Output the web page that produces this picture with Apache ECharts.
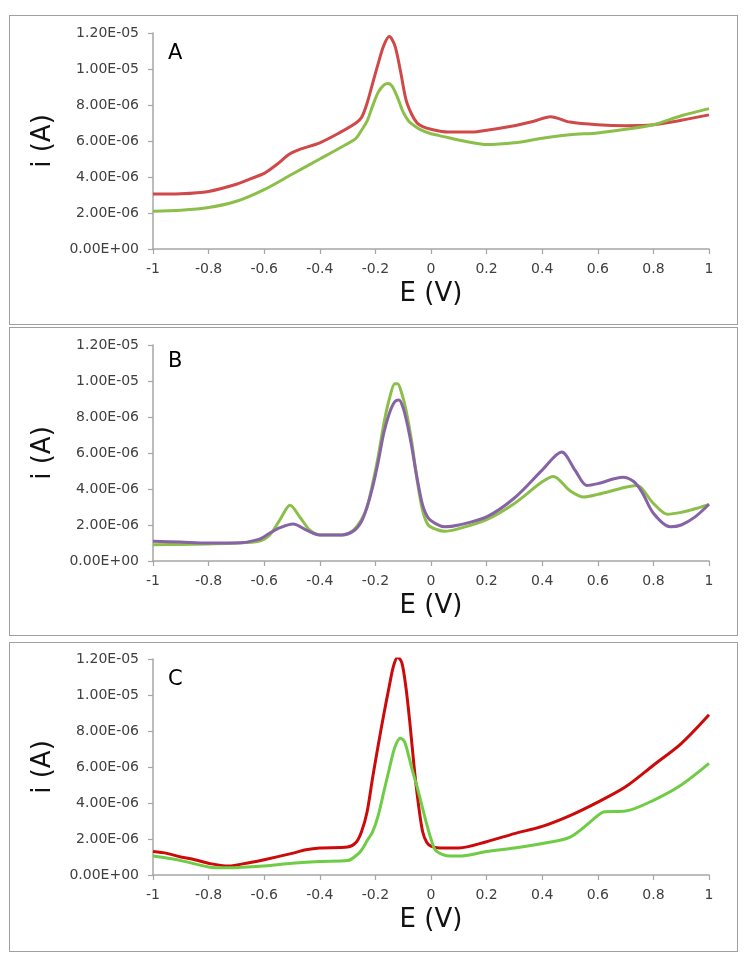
<!DOCTYPE html>
<html><head><meta charset="utf-8">
<script src="https://cdn.jsdelivr.net/npm/echarts@6/dist/echarts.min.js"></script>
<style>
html,body{margin:0;padding:0;background:#fff}
#wrap{position:relative;width:752px;height:962px}
#c{position:absolute;left:0;top:0;width:752px;height:962px}
.box{position:absolute;border:1.5px solid #a0a0a0;box-sizing:border-box;pointer-events:none}
</style>
</head><body><div id="wrap">
<div class="box" style="left:9px;top:15px;width:729px;height:310px"></div>
<div class="box" style="left:9px;top:327px;width:729px;height:309px"></div>
<div class="box" style="left:9px;top:642px;width:729px;height:310px"></div>
<div id="c"></div></div>
<script>
// Tick values
var xTicks = { min: -1, max: 1, interval: 0.2 };
var yTicks = { min: 0, max: 12, interval: 2 }; // in units of 1e-6 A

// Panel A (current in 1e-6 A)
var A_red_E = [-1,-0.9,-0.8,-0.7,-0.65,-0.6,-0.55,-0.52,-0.5,-0.47,-0.4,-0.33,-0.27,-0.25,-0.23,-0.21,-0.19,-0.17,-0.15,-0.13,-0.11,-0.09,-0.07,-0.05,-0.03,0,0.06,0.15,0.2,0.3,0.37,0.43,0.5,0.6,0.7,0.8,0.9,1];
var A_red_i = [3.05,3.07,3.2,3.6,3.9,4.2,4.75,5.15,5.35,5.55,5.9,6.45,7.0,7.3,8.1,9.2,10.3,11.3,11.8,11.3,9.9,8.3,7.5,7.0,6.8,6.65,6.5,6.5,6.6,6.85,7.1,7.35,7.05,6.9,6.85,6.9,7.15,7.45];
var A_green_E = [-1,-0.9,-0.8,-0.7,-0.6,-0.5,-0.4,-0.33,-0.27,-0.25,-0.23,-0.21,-0.19,-0.17,-0.155,-0.14,-0.12,-0.1,-0.08,-0.06,-0.04,0,0.03,0.15,0.2,0.3,0.4,0.5,0.6,0.7,0.8,0.9,1];
var A_green_i = [2.1,2.15,2.3,2.65,3.3,4.15,5.0,5.6,6.15,6.6,7.1,7.95,8.7,9.1,9.2,9.05,8.4,7.6,7.1,6.85,6.65,6.4,6.3,5.9,5.8,5.9,6.15,6.35,6.45,6.65,6.9,7.4,7.8];

// Panel B
var B_green_E = [-1,-0.9,-0.8,-0.7,-0.62,-0.58,-0.543,-0.507,-0.47,-0.435,-0.4,-0.32,-0.28,-0.25,-0.23,-0.21,-0.19,-0.17,-0.15,-0.13,-0.12,-0.105,-0.09,-0.07,-0.05,-0.03,-0.01,0.02,0.05,0.1,0.2,0.3,0.4,0.44,0.5,0.55,0.6,0.7,0.74,0.8,0.85,0.9,0.95,1];
var B_green_i = [0.9,0.92,0.95,1.0,1.1,1.45,2.3,3.1,2.4,1.7,1.45,1.45,1.7,2.3,3.0,4.3,5.8,7.6,9.0,9.85,9.85,9.3,8.4,6.7,4.5,2.8,2.0,1.75,1.65,1.8,2.3,3.2,4.4,4.7,3.9,3.55,3.7,4.1,4.2,3.2,2.6,2.7,2.9,3.15];
var B_purple_E = [-1,-0.9,-0.8,-0.7,-0.62,-0.58,-0.543,-0.496,-0.446,-0.4,-0.32,-0.28,-0.25,-0.23,-0.21,-0.19,-0.17,-0.15,-0.13,-0.115,-0.1,-0.086,-0.07,-0.05,-0.03,-0.01,0.02,0.05,0.1,0.2,0.3,0.4,0.47,0.52,0.56,0.6,0.69,0.73,0.76,0.8,0.86,0.9,0.95,1];
var B_purple_i = [1.1,1.05,1.0,1.0,1.2,1.55,1.85,2.05,1.7,1.45,1.45,1.65,2.2,3.0,4.1,5.5,7.1,8.2,8.85,8.95,8.5,7.65,6.4,4.6,3.1,2.4,2.05,1.9,2.0,2.45,3.5,5.05,6.05,5.0,4.2,4.3,4.65,4.4,3.8,2.65,1.9,2.0,2.45,3.15];

// Panel C
var C_red_E = [-1,-0.95,-0.9,-0.85,-0.8,-0.73,-0.65,-0.6,-0.5,-0.45,-0.4,-0.3,-0.27,-0.25,-0.23,-0.21,-0.19,-0.17,-0.15,-0.135,-0.12,-0.105,-0.09,-0.075,-0.06,-0.045,-0.03,-0.015,0,0.03,0.1,0.2,0.3,0.4,0.5,0.6,0.7,0.8,0.9,1];
var C_red_i = [1.3,1.2,1.0,0.85,0.65,0.5,0.7,0.85,1.2,1.4,1.5,1.55,1.8,2.4,3.5,5.4,7.2,8.9,10.5,11.6,12.1,11.8,10.4,8.3,5.9,3.9,2.4,1.8,1.6,1.5,1.5,1.85,2.3,2.7,3.3,4.05,4.9,6.1,7.3,8.9];
var C_green_E = [-1,-0.9,-0.8,-0.73,-0.6,-0.5,-0.4,-0.3,-0.26,-0.245,-0.23,-0.21,-0.19,-0.17,-0.15,-0.13,-0.11,-0.095,-0.08,-0.065,-0.05,-0.035,-0.015,0,0.015,0.04,0.07,0.1,0.2,0.3,0.4,0.5,0.6,0.62,0.7,0.8,0.9,1];
var C_green_i = [1.05,0.8,0.45,0.4,0.5,0.65,0.75,0.8,1.2,1.5,1.9,2.4,3.3,4.6,5.9,7.1,7.6,7.4,6.6,5.7,4.9,4.0,2.8,2.0,1.4,1.15,1.05,1.05,1.3,1.5,1.75,2.1,3.3,3.5,3.55,4.15,5.0,6.2];

var panelLabels = ['A','B','C'];
var xName = 'E (V)';
var yName = 'i (A)';

function zip(a,b){ return a.map(function(v,k){ return [v,b[k]]; }); }
function sci(v){
  if (Math.abs(v) < 1e-9) return '0.00E+00';
  var parts = (v*1e-6).toExponential(2).split('e');
  var n = parseInt(parts[1],10);
  return parts[0] + 'E' + (n<0?'-':'+') + String(Math.abs(n)).padStart(2,'0');
}
function xf(v){ return String(Math.round(v*10)/10); }

var FONT = 'DejaVu Sans';
var gridTops = [33, 345, 659];
var labelTops = [43, 351, 669];

var panels = [
  [{E:A_red_E, i:A_red_i, color:'#d04848'}, {E:A_green_E, i:A_green_i, color:'#8cbf4a'}],
  [{E:B_green_E, i:B_green_i, color:'#8cbf4a'}, {E:B_purple_E, i:B_purple_i, color:'#8763a6'}],
  [{E:C_red_E, i:C_red_i, color:'#cc0a0a'}, {E:C_green_E, i:C_green_i, color:'#6fcc45'}]
];

var grid = [], xAxis = [], yAxis = [], series = [], title = [];
var axisColor = '#a6a6a6';
for (var p=0; p<3; p++){
  grid.push({left:153, right:43, top:gridTops[p], height:216, containLabel:false});
  xAxis.push({
    type:'value', gridIndex:p, min:xTicks.min, max:xTicks.max, interval:xTicks.interval,
    axisLine:{show:true, onZero:false, lineStyle:{color:axisColor, width:1.5}},
    axisTick:{show:true, length:5, lineStyle:{color:axisColor, width:1.2}},
    splitLine:{show:false},
    axisLabel:{formatter:xf, color:'#404040', fontSize:14, fontFamily:FONT, margin:13},
    name:xName, nameLocation:'middle', nameGap:32,
    nameTextStyle:{fontSize:26, fontFamily:FONT, color:'#111'}
  });
  yAxis.push({
    type:'value', gridIndex:p, min:yTicks.min, max:yTicks.max, interval:yTicks.interval,
    position:'left',
    axisLine:{show:true, onZero:false, lineStyle:{color:axisColor, width:1.5}},
    axisTick:{show:true, length:5, lineStyle:{color:axisColor, width:1.2}},
    splitLine:{show:false},
    axisLabel:{formatter:sci, color:'#404040', fontSize:14, fontFamily:FONT, margin:14},
    name:yName, nameLocation:'middle', nameGap:97, nameRotate:90,
    nameTextStyle:{fontSize:26, fontFamily:FONT, color:'#111'}
  });
  panels[p].forEach(function(s){
    series.push({
      type:'line', xAxisIndex:p, yAxisIndex:p, data:zip(s.E, s.i),
      showSymbol:false, smooth:0.3, silent:true,
      lineStyle:{color:s.color, width:3}, itemStyle:{color:s.color}
    });
  });
  title.push({text:panelLabels[p], left:168, top:labelTops[p], padding:0,
    textStyle:{fontSize:21, fontWeight:'normal', fontFamily:FONT, color:'#000'}});
}

var chart = echarts.init(document.getElementById('c'), null, {renderer:'canvas'});
chart.setOption({
  animation:false, backgroundColor:'transparent',
  title:title, grid:grid, xAxis:xAxis, yAxis:yAxis, series:series
});
</script></body></html>
